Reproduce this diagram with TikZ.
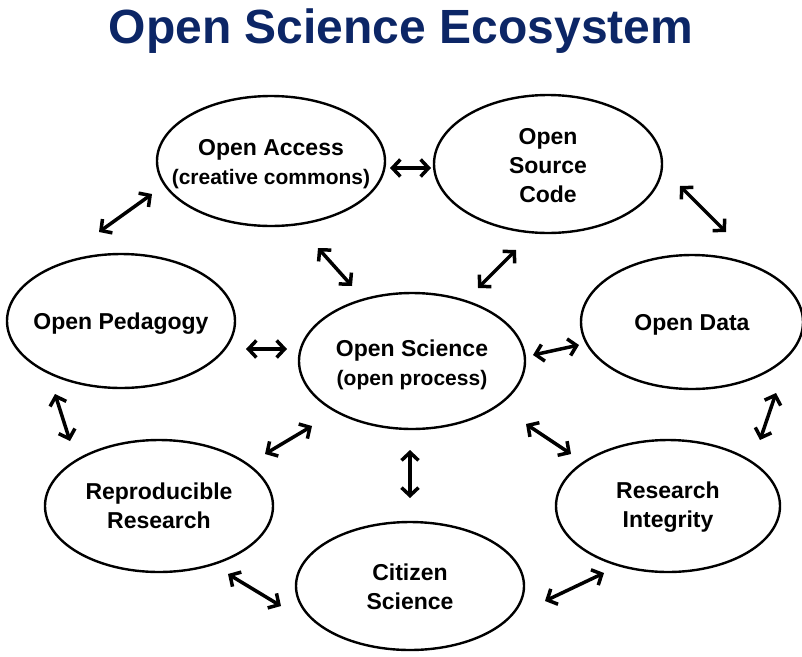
\documentclass[tikz,border=0pt]{standalone}
\usepackage{fontspec}
\setmainfont{Liberation Sans}
\usetikzlibrary{shapes.geometric,arrows.meta}
\definecolor{titleblue}{RGB}{12,38,102}
\begin{document}
\begin{tikzpicture}[x=1pt,y=-1pt,
  bubble/.style={ellipse, draw=black, line width=2.4pt, inner sep=0pt},
  label/.style={align=center, inner sep=0pt, font=\bfseries\fontsize{23}{29}\selectfont},
  link/.style={line width=3.5pt, line cap=butt,
    {Straight Barb[length=8pt,width=17pt]}-{Straight Barb[length=8pt,width=17pt]}}]
\useasboundingbox[fill=white] (0,0) rectangle (802,656);
\node[text=titleblue, font=\bfseries\fontsize{48}{50}\selectfont, anchor=base] (title) at (401,43) {Open Science Ecosystem};

\node[bubble, minimum width=228pt, minimum height=130pt] (oa) at (271,161) {};
\node[bubble, minimum width=228pt, minimum height=138pt] (osc) at (548,164) {};
\node[bubble, minimum width=228pt, minimum height=134pt] (op) at (121,321) {};
\node[bubble, minimum width=222pt, minimum height=134pt] (od) at (692,322) {};
\node[bubble, minimum width=226pt, minimum height=136pt] (os) at (412,361) {};
\node[bubble, minimum width=228pt, minimum height=132pt] (rr) at (159,506) {};
\node[bubble, minimum width=224pt, minimum height=132pt] (ri) at (668,506) {};
\node[bubble, minimum width=228pt, minimum height=128pt] (cs) at (410,586) {};

\node[label] (oat) at ([yshift=-3pt]oa.center) {Open Access\\{\fontsize{21}{29}\selectfont (creative commons)}};
\node[label] (osct) at ([yshift=-2pt]osc.center) {Open\\Source\\Code};
\node[label] (opt) at ([yshift=-3pt]op.center) {Open Pedagogy};
\node[label] (odt) at ([yshift=-3pt]od.center) {Open Data};
\node[label] (ost) at ([yshift=-4pt]os.center) {Open Science\\{\fontsize{21}{29}\selectfont (open process)}};
\node[label] (rrt) at ([yshift=0pt]rr.center) {Reproducible\\Research};
\node[label] (rit) at ([yshift=-1pt]ri.center) {Research\\Integrity};
\node[label] (cst) at ([yshift=-1pt]cs.center) {Citizen\\Science};

% arrow end points
\coordinate (a1s) at (390,168);  \coordinate (a1e) at (431,168);
\coordinate (a2s) at (152,194);  \coordinate (a2e) at (99,232);
\coordinate (a3s) at (680,186);  \coordinate (a3e) at (726,232);
\coordinate (a4s) at (318,248);  \coordinate (a4e) at (352,286);
\coordinate (a5s) at (516,250);  \coordinate (a5e) at (478,288);
\coordinate (a6s) at (246,349);  \coordinate (a6e) at (287,349);
\coordinate (a7s) at (579,345);  \coordinate (a7e) at (533,355);
\coordinate (a8s) at (55,394);   \coordinate (a8e) at (70,441);
\coordinate (a9s) at (776,393);  \coordinate (a9e) at (760,440);
\coordinate (a10s) at (312,426); \coordinate (a10e) at (265,454);
\coordinate (a11s) at (526,424); \coordinate (a11e) at (571,454);
\coordinate (a12s) at (410,450); \coordinate (a12e) at (410,498);
\coordinate (a13s) at (228,574); \coordinate (a13e) at (281,606);
\coordinate (a14s) at (604,573); \coordinate (a14e) at (545,601);

\foreach \i in {1,...,14} {\draw[link] (a\i s) -- (a\i e);}
\end{tikzpicture}
\end{document}
